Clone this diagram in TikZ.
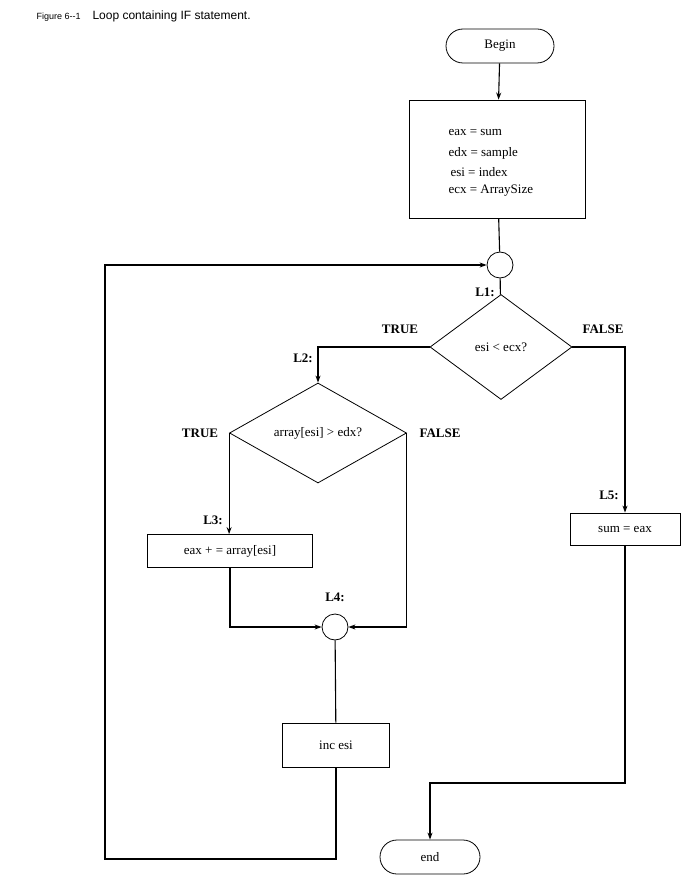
\documentclass[tikz,border=0pt]{standalone}
\usepackage{fontspec}
\setmainfont{Liberation Serif}
\newfontfamily\capfont{Liberation Sans}
\usetikzlibrary{shapes.geometric,shapes.misc,arrows.meta}
\begin{document}
\begin{tikzpicture}[x=1pt,y=-1pt,
  every node/.style={font=\fontsize{13}{15}\selectfont},
  box/.style={draw,line width=0.8pt,inner sep=0pt},
  term/.style={draw,line width=0.8pt,rounded rectangle,minimum width=#1,minimum height=34pt,inner sep=0pt},
  jn/.style={draw,line width=0.8pt,circle,minimum size=26pt,inner sep=0pt},
  lbl/.style={font=\fontsize{13}{15}\selectfont\bfseries},
  ln/.style={line width=1.1pt},
  arr/.style={line width=1.1pt,-{Stealth[length=7pt,width=5pt]}}]
\useasboundingbox (0,0) rectangle (697,893);
\node[anchor=west,font=\capfont\fontsize{12}{14}\selectfont] (cap) at (33,16) {{\fontsize{9}{11}\selectfont F\textsc{igure} 6--1}\quad Loop containing IF statement.};
\node[term=108pt] (begin) at (500,46) {Begin};
\node[box,minimum width=176pt,minimum height=118pt] (init) at (497,159) {};
\node[anchor=west] (t1) at (445,133) {eax = sum};
\node[anchor=west] (t2) at (445,153) {edx = sample};
\node[anchor=west] (t3) at (447,172) {esi = index};
\node[anchor=west] (t4) at (445,191) {ecx = ArraySize};
\node[jn] (c1) at (500,265) {};
\node[draw,line width=0.8pt,diamond,minimum width=142pt,minimum height=105pt,inner sep=0pt] (d1) at (501,347) {esi < ecx?};
\node[draw,line width=0.8pt,diamond,minimum width=177pt,minimum height=100pt,inner sep=0pt] (d2) at (318,433) {array[esi] > edx?};
\node[box,minimum width=165pt,minimum height=33pt] (b3) at (230,551) {eax + = array[esi]};
\node[jn] (c4) at (335,627) {};
\node[box,minimum width=107pt,minimum height=44pt] (b4) at (336,745) {inc esi};
\node[box,minimum width=110pt,minimum height=32pt] (b5) at (625,529) {sum = eax};
\node[term=100pt] (end) at (430,857) {end};
\node[lbl] (L1) at (485,292) {L1:};
\node[lbl] (L2) at (303,358) {L2:};
\node[lbl] (L3) at (213,520) {L3:};
\node[lbl] (L4) at (335,597) {L4:};
\node[lbl] (L5) at (609,495) {L5:};
\node[lbl] (T1) at (400,329) {TRUE};
\node[lbl] (F1) at (603,329) {FALSE};
\node[lbl] (T2) at (200,433) {TRUE};
\node[lbl] (F2) at (440,433) {FALSE};
\draw[arr] (begin) -- (init);
\draw[ln] (init) -- (c1);
\draw[ln] (c1) -- (d1);
\draw[arr] (d1.west) -| (d2.north);
\draw[arr] (d1.east) -| (b5.north);
\draw[arr] (d2.west) -- (d2.west |- b3.north);
\draw[arr] (d2.east) |- (c4.east);
\draw[arr] (b3.south) |- (c4.west);
\draw[ln] (c4) -- (b4);
\draw[arr] (b4.south) |- (105,859) |- (c1.west);
\draw[arr] (b5.south) |- (430,783) -- (end.north);
\end{tikzpicture}
\end{document}
